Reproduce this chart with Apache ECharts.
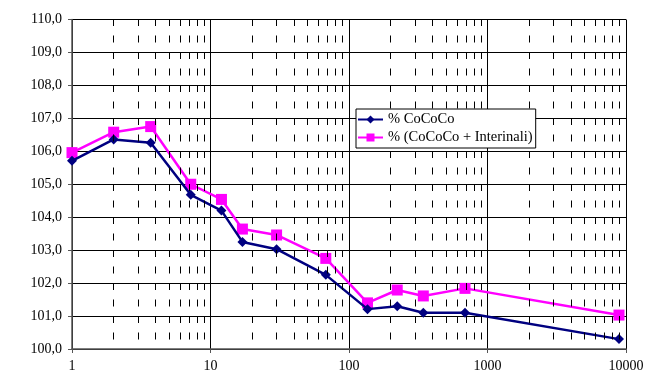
<!DOCTYPE html>
<html>
<head>
<meta charset="utf-8">
<script src="https://cdn.jsdelivr.net/npm/echarts@6/dist/echarts.min.js"></script>
<style>
  html, body { margin: 0; padding: 0; background: #fff; }
  #chart { width: 648px; height: 378px; }
</style>
</head>
<body>
<div id="chart"></div>
<script>
// x positions (log scale) shared by both series
const xValues = [1, 2, 3.7, 7.2, 12, 17, 30, 68, 136, 223, 344, 688, 8900];
const cococo = [105.71, 106.36, 106.26, 104.68, 104.2, 103.25, 103.03, 102.25, 101.21, 101.3, 101.1, 101.1, 100.3];
const cococoInter = [105.96, 106.58, 106.75, 105.0, 104.54, 103.64, 103.46, 102.75, 101.4, 101.79, 101.61, 101.84, 101.03];
const seriesNames = ['% CoCoCo', '% (CoCoCo + Interinali)'];

// minor log gridlines 2..9 per decade
const minorLines = [];
[1, 10, 100, 1000].forEach(d => {
    for (let k = 2; k <= 9; k++) minorLines.push(k * d);
});

const font = 'Liberation Serif';
const chart = echarts.init(document.getElementById('chart'));

const toPairs = vals => vals.map((v, i) => [xValues[i], v]);

chart.setOption({
    backgroundColor: '#fff',
    animation: false,
    grid: { left: 72, right: 22, top: 19.5, bottom: 29 },
    legend: {
        data: seriesNames,
        orient: 'vertical',
        left: 356,
        top: 109,
        z: 20,
        zlevel: 1,
        backgroundColor: '#fff',
        borderColor: '#000',
        borderWidth: 1,
        borderRadius: 0,
        padding: [3, 3, 3, 1],
        itemGap: 3,
        itemWidth: 25,
        itemHeight: 10,
        textStyle: { fontFamily: font, fontSize: 14.5, color: '#000' }
    },
    xAxis: {
        type: 'log',
        logBase: 10,
        min: 1,
        max: 10000,
        axisLine: { lineStyle: { color: '#555', width: 1.5 } },
        axisTick: { show: true, length: 4, lineStyle: { color: '#555' } },
        axisLabel: {
            fontFamily: font, fontSize: 14, color: '#000', margin: 10,
            formatter: v => String(Math.round(v))
        },
        splitLine: { show: true, lineStyle: { color: '#000', width: 1 } },
        minorTick: { show: false },
        minorSplitLine: { show: false }
    },
    yAxis: {
        type: 'value',
        min: 100,
        max: 110,
        interval: 1,
        axisLine: { show: true, lineStyle: { color: '#555', width: 1.5 } },
        axisTick: { show: true, length: 4, lineStyle: { color: '#555' } },
        axisLabel: {
            fontFamily: font, fontSize: 14, color: '#000', margin: 10,
            formatter: v => v.toFixed(1).replace('.', ',')
        },
        splitLine: { show: true, lineStyle: { color: '#000', width: 1 } }
    },
    series: [
        {
            name: 'minor',
            type: 'line',
            data: [],
            silent: true,
            z: 1,
            markLine: {
                silent: true,
                symbol: ['none', 'none'],
                label: { show: false },
                lineStyle: { color: '#000', width: 1, type: [7, 9.5], dashOffset: 7 },
                emphasis: { disabled: true },
                data: minorLines.map(v => ({ xAxis: v }))
            }
        },
        {
            name: seriesNames[0],
            type: 'line',
            data: toPairs(cococo),
            z: 3,
            symbol: 'diamond',
            symbolSize: 10,
            lineStyle: { color: '#000080', width: 2.5 },
            itemStyle: { color: '#000080' }
        },
        {
            name: seriesNames[1],
            type: 'line',
            data: toPairs(cococoInter),
            z: 2,
            symbol: 'rect',
            symbolSize: 11,
            lineStyle: { color: '#FF00FF', width: 2.5 },
            itemStyle: { color: '#FF00FF' }
        }
    ]
});
</script>
</body>
</html>
